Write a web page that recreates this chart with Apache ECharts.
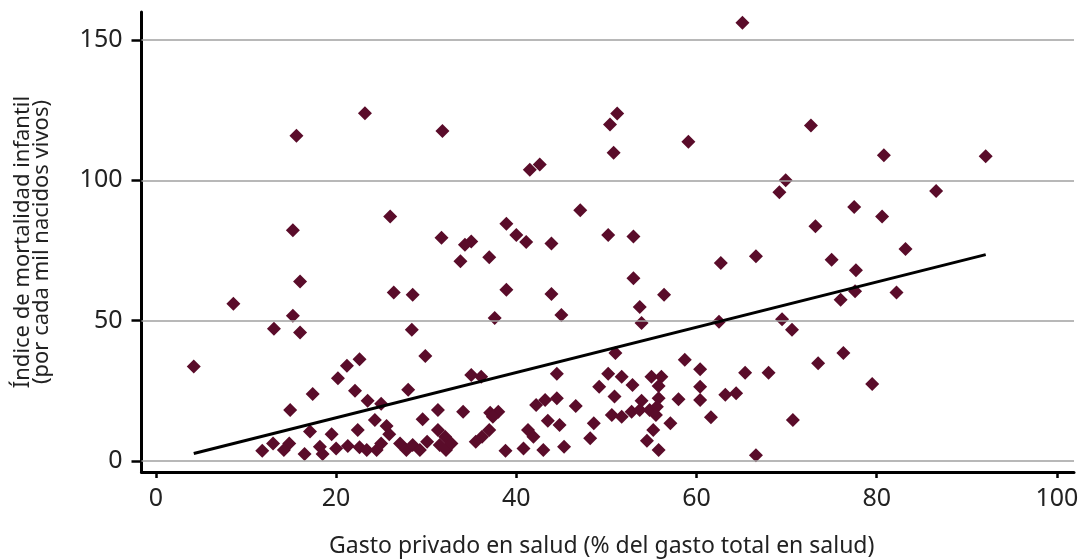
<!DOCTYPE html>
<html>
<head>
<meta charset="utf-8">
<script src="https://cdn.jsdelivr.net/npm/echarts@6/dist/echarts.min.js"></script>
<style>
html,body{margin:0;padding:0;background:#fff;}
#chart{width:1081px;height:559px;}
</style>
</head>
<body>
<div id="chart"></div>
<script>
// Gasto privado en salud (% del gasto total en salud)
const gastoPrivado = [
15.6,23.2,31.8,15.2,26.0,31.7,65.1,51.2,50.4,50.8,59.1,42.6,41.5,47.1,38.9,40.0,41.1,50.2,53.0,35.0,34.3,43.9,
72.7,80.8,92.1,69.9,69.2,86.6,77.5,80.6,73.2,
16.0,8.6,26.4,28.5,15.2,13.1,16.0,28.4,29.9,4.2,22.6,21.2,20.2,22.1,17.4,28.0,23.5,25.0,14.9,31.3,29.6,24.3,25.6,
17.1,22.4,19.5,25.9,31.3,32.1,13.0,14.8,11.8,14.2,16.5,18.2,18.5,20.0,21.3,22.6,23.4,24.5,25.0,27.1,27.8,28.5,29.3,30.1,31.5,32.2,
33.8,37.0,62.7,66.6,53.0,56.4,38.9,43.9,37.6,45.0,53.7,53.9,62.5,51.0,58.7,60.4,65.4,35.0,36.1,44.5,50.2,51.7,52.9,49.2,
55.0,56.1,55.8,60.4,50.9,53.9,55.8,58.0,60.4,63.2,64.4,34.1,37.1,38.0,42.2,43.2,44.5,46.6,50.6,51.7,52.8,53.7,54.8,55.6,55.5,
61.6,57.1,55.2,54.5,55.8,48.6,48.2,43.5,44.8,41.3,41.9,45.3,43.0,40.8,38.8,37.4,37.0,36.2,35.5,32.8,66.6,
75.0,83.2,77.7,77.6,76.0,82.2,69.5,70.6,76.3,73.5,68.0,79.5,70.7
];
// Índice de mortalidad infantil (por cada mil nacidos vivos)
const mortalidad = [
115.9,123.9,117.6,82.2,87.1,79.5,156.2,123.8,119.9,109.8,113.7,105.6,103.8,89.3,84.5,80.5,78.0,80.5,80.0,78.2,77.0,77.5,
119.5,108.9,108.6,100.0,95.7,96.2,90.5,87.1,83.6,
63.9,56.0,60.0,59.2,51.7,47.1,45.7,46.7,37.4,33.6,36.2,33.9,29.4,25.0,23.8,25.3,21.4,20.3,18.1,18.1,14.8,14.5,12.4,
10.4,11.0,9.5,9.5,11.0,8.6,6.2,6.2,3.6,3.8,2.4,5.0,2.4,4.4,5.3,4.8,3.8,3.8,6.2,6.2,3.8,5.6,3.8,6.8,5.6,3.8,
71.1,72.6,70.5,72.9,65.1,59.2,61.0,59.5,50.9,52.0,54.8,49.1,49.6,38.4,36.0,32.6,31.4,30.6,30.0,31.0,31.0,30.0,27.0,26.4,
30.0,30.0,26.7,26.4,22.9,21.4,22.3,21.9,21.7,23.5,24.1,17.5,17.1,17.5,19.9,21.7,22.3,19.5,16.3,15.7,17.5,18.1,18.1,19.3,16.3,
15.5,13.4,11.0,7.1,3.8,13.4,8.0,14.3,12.8,11.0,8.6,5.0,3.8,4.4,3.6,15.7,11.0,8.6,6.8,6.2,2.0,
71.7,75.5,67.9,60.4,57.4,60.0,50.5,46.7,38.4,34.8,31.4,27.4,14.5
];
// Recta de tendencia (extremos)
const tendenciaX = [4.2, 92.1];
const tendenciaY = [2.6, 73.5];
const xTicks = [0, 20, 40, 60, 80, 100];
const yTicks = [0, 50, 100, 150];
const xTitle = 'Gasto privado en salud (% del gasto total en salud)';
const yTitle = 'Índice de mortalidad infantil\n(por cada mil nacidos vivos)';

const puntos = gastoPrivado.map((x, i) => [x, mortalidad[i]]);
const tendencia = tendenciaX.map((x, i) => [x, tendenciaY[i]]);

const chart = echarts.init(document.getElementById('chart'), null, {renderer: 'canvas'});
const FONT = 'Noto Sans';
chart.setOption({
  animation: false,
  backgroundColor: '#ffffff',
  grid: {left: 141.5, right: 7, top: 12, bottom: 87, containLabel: false, outerBoundsMode: 'none'},
  xAxis: {
    type: 'value', min: -1.6, max: 101.9,
    name: xTitle, nameLocation: 'middle', nameGap: 63,
    nameTextStyle: {fontFamily: FONT, fontSize: 23, color: '#222', padding: [0, 12, 0, 0]},
    axisLine: {show: true, onZero: false, lineStyle: {color: '#000', width: 3}},
    axisTick: {show: true, length: 6, customValues: xTicks, lineStyle: {color: '#000', width: 2.5}},
    axisLabel: {customValues: xTicks, margin: 14, fontFamily: FONT, fontSize: 25, color: '#222'},
    splitLine: {show: false}
  },
  yAxis: {
    type: 'value', min: -4, max: 160,
    name: yTitle, nameLocation: 'middle', nameGap: 90, nameRotate: 90,
    nameTextStyle: {fontFamily: FONT, fontSize: 22, color: '#222', lineHeight: 19, align: 'center', padding: [0, 0, 0, 0]},
    axisLine: {show: true, onZero: false, lineStyle: {color: '#000', width: 3}},
    axisTick: {show: true, length: 10, customValues: yTicks, lineStyle: {color: '#000', width: 2.5}},
    axisLabel: {customValues: yTicks, margin: 19, fontFamily: FONT, fontSize: 25, color: '#222'},
    splitLine: {show: false}
  },
  series: [
    {
      type: 'line', data: [], silent: true,
      markLine: {
        silent: true, symbol: 'none', label: {show: false},
        lineStyle: {color: '#a0a0a0', width: 1.5, type: 'solid'},
        data: yTicks.map(v => ({yAxis: v}))
      }
    },
    {
      type: 'scatter', data: puntos, symbol: 'diamond', symbolSize: 14,
      itemStyle: {color: '#5a0c2a', opacity: 1}
    },
    {
      type: 'line', data: tendencia, showSymbol: false, symbol: 'none',
      lineStyle: {color: '#000', width: 3}, z: 5
    }
  ]
});
</script>
</body>
</html>
